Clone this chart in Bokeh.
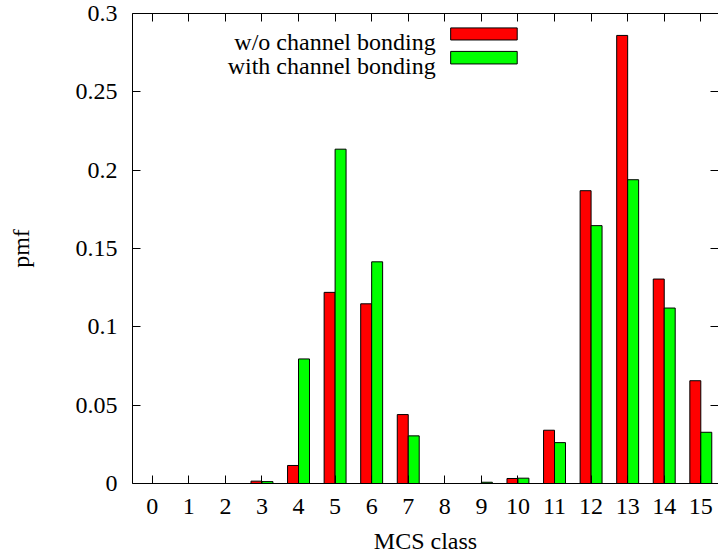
from bokeh.plotting import figure
from bokeh.models import Range1d, FixedTicker, LinearAxis, Label, BoxAnnotation, ColumnDataSource
from bokeh.transform import dodge
from bokeh.embed import file_html
from bokeh.resources import INLINE

# ---- data ----
mcs_class = list(range(16))
x_tick_labels = [str(c) for c in mcs_class]
pmf_without_cb = [0, 0, 0, 0.0015, 0.0115, 0.122, 0.1147, 0.044, 0, 0, 0.0032, 0.034, 0.1869, 0.286, 0.1305, 0.0656]
pmf_with_cb = [0, 0, 0, 0.0012, 0.0795, 0.2134, 0.1415, 0.0304, 0, 0.0008, 0.0034, 0.0261, 0.1646, 0.1939, 0.112, 0.0327]
y_tick_values = [0, 0.05, 0.1, 0.15, 0.2, 0.25, 0.3]
y_tick_labels = ["0", "0.05", "0.1", "0.15", "0.2", "0.25", "0.3"]
series_names = ["w/o channel bonding", "with channel bonding"]

FONT = "Liberation Serif"
FS = "24px"
RED = "#ff0000"
GREEN = "#00ff00"

p = figure(width=718, height=556,
           x_range=Range1d(-0.54, 15.484), y_range=Range1d(0, 0.3),
           output_backend="svg", toolbar_location=None,
           min_border_left=132, min_border_right=0,
           min_border_top=13, min_border_bottom=72)
p.outline_line_color = None
p.grid.visible = False
p.background_fill_color = "white"
p.border_fill_color = "white"

src = ColumnDataSource(dict(x=mcs_class, wo=pmf_without_cb, wi=pmf_with_cb))
p.vbar(x=dodge("x", -0.15, range=p.x_range), top="wo", width=0.3, source=src,
       fill_color=RED, line_color="black", line_width=1)
p.vbar(x=dodge("x", 0.15, range=p.x_range), top="wi", width=0.3, source=src,
       fill_color=GREEN, line_color="black", line_width=1)

# bottom axis
xa = p.xaxis[0]
xa.ticker = FixedTicker(ticks=mcs_class)
xa.major_label_overrides = {c: l for c, l in zip(mcs_class, x_tick_labels)}
xa.major_tick_in = 8
xa.major_tick_out = 0
xa.minor_tick_line_color = None
xa.major_label_standoff = 15
xa.axis_line_color = "black"
xa.major_tick_line_color = "black"
xa.major_label_text_font = FONT
xa.major_label_text_font_size = FS
xa.major_label_text_color = "black"
xa.axis_label = "MCS class"
xa.axis_label_text_font = FONT
xa.axis_label_text_font_size = FS
xa.axis_label_text_font_style = "normal"
xa.axis_label_text_color = "black"
xa.axis_label_standoff = 11

# left axis
ya = p.yaxis[0]
ya.ticker = FixedTicker(ticks=y_tick_values)
ya.major_label_overrides = {v: l for v, l in zip(y_tick_values, y_tick_labels)}
ya.major_tick_in = 8
ya.major_tick_out = 0
ya.minor_tick_line_color = None
ya.major_label_standoff = 15
ya.axis_line_color = "black"
ya.major_tick_line_color = "black"
ya.major_label_text_font = FONT
ya.major_label_text_font_size = FS
ya.major_label_text_color = "black"
ya.axis_label = "pmf"
ya.axis_label_text_font = FONT
ya.axis_label_text_font_size = FS
ya.axis_label_text_font_style = "normal"
ya.axis_label_text_color = "black"
ya.axis_label_standoff = 39

# top axis (ticks only)
ta = LinearAxis(ticker=FixedTicker(ticks=mcs_class))
ta.major_tick_in = 8
ta.major_tick_out = 0
ta.minor_tick_line_color = None
ta.major_label_standoff = 0
ta.major_label_text_font_size = "0px"
ta.major_label_text_color = None
ta.axis_line_color = "black"
ta.major_tick_line_color = "black"
p.add_layout(ta, "above")

# right axis (ticks only, border lies just past the picture's edge)
ra = LinearAxis(ticker=FixedTicker(ticks=y_tick_values))
ra.major_tick_in = 8
ra.major_tick_out = 0
ra.minor_tick_line_color = None
ra.major_label_standoff = 0
ra.major_label_text_font_size = "0px"
ra.major_label_text_color = None
ra.axis_line_color = None
ra.major_tick_line_color = "black"
p.add_layout(ra, "right")

# legend (text right, swatch left)
leg_text_x = 7.75
leg_box_left, leg_box_right = 8.16, 9.98
rows = [(series_names[0], RED, 0.2817, 0.2831, 0.2908),
        (series_names[1], GREEN, 0.2667, 0.2678, 0.2758)]
for name, col, base, bb, bt in rows:
    p.add_layout(Label(x=leg_text_x, y=base, text=name, text_align="right",
                       text_baseline="alphabetic", text_font=FONT,
                       text_font_size=FS, text_color="black"))
    p.add_layout(BoxAnnotation(left=leg_box_left, right=leg_box_right, bottom=bb, top=bt,
                               fill_color=col, fill_alpha=1, line_color="black",
                               line_width=1, line_alpha=1))

open("out.html", "w").write(file_html(p, INLINE))
